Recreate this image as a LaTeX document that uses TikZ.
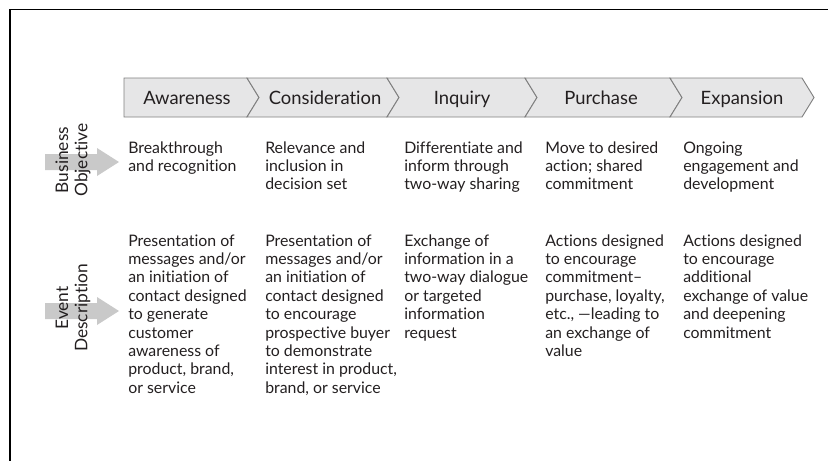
\documentclass[tikz,border=0pt]{standalone}
\usepackage{fontspec}
\setmainfont{Lato}[Ligatures=NoCommon]
\usetikzlibrary{positioning}
\definecolor{inkgray}{HTML}{231F20}
\definecolor{barfill}{HTML}{E6E6E7}
\definecolor{barline}{HTML}{808080}
\definecolor{arrowgray}{HTML}{C9C9C9}

\begin{document}
\begin{tikzpicture}[x=0.75pt,y=-0.75pt,
    stage/.style={anchor=base,inner sep=0pt,text=inkgray,font=\fontsize{13.8}{15}\selectfont},
    cell/.style={anchor=base west,inner sep=0pt,align=left,text=inkgray,font=\fontsize{11.9}{13.8}\selectfont},
    side/.style={rotate=90,align=center,inner sep=0pt,text=inkgray,font=\fontsize{13}{14.5}\selectfont},
    chev/.style={draw=barline,fill=barfill,line width=0.7pt}]
    \useasboundingbox (0,0) rectangle (828,461);

    % Frame
    \draw[line width=1.1pt] (9,9.5) -- (828,9.5);
    \draw[line width=1.1pt] (10,9) -- (10,461);

    % Stage bar
    \draw[chev] (124,78) -- (247,78) -- (259,97.5) -- (247,117) -- (124,117) -- cycle;
    \foreach \a/\b in {247/387,387/525,525/670,670/802}
        \draw[chev] (\a,78) -- (\b,78) -- (\b+12,97.5) -- (\b,117) -- (\a,117) -- (\a+12,97.5) -- cycle;

    \node[stage] (aware) at (187,104) {Awareness};
    \node[stage] (consider) at (325,104) {Consideration};
    \node[stage] (inquiry) at (462,104) {Inquiry};
    \node[stage] (purchase) at (601,104) {Purchase};
    \node[stage] (expand) at (742,104) {Expansion};

    % Row arrows
    \fill[arrowgray] (45,154) -- (97,154) -- (97,148) -- (119,162) -- (97,176) -- (97,170) -- (45,170) -- cycle;
    \fill[arrowgray] (45,303) -- (97,303) -- (97,297) -- (119,311) -- (97,325) -- (97,319) -- (45,319) -- cycle;

    % Row labels
    \node[side] (objective) at (73,160) {Business\\Objective};
    \node[side] (event) at (73,308) {Event\\Description};

    % Business objective (anchored at the last line)
    \node[cell] (obj1) at (128,171.4) {Breakthrough\\and recognition};
    \node[cell] (obj2) at (265,189.8) {Relevance and\\inclusion in\\decision set};
    \node[cell] (obj3) at (404,189.8) {Differentiate and\\inform through\\two-way sharing};
    \node[cell] (obj4) at (545,189.8) {Move to desired\\action; shared\\commitment};
    \node[cell] (obj5) at (683,189.8) {Ongoing\\engagement and\\development};

    % Event description (anchored at the last line)
    \node[cell] (ev1) at (128,393.2) {Presentation of\\messages and/or\\an initiation of\\contact designed\\to generate\\customer\\awareness of\\product, brand,\\or service};
    \node[cell] (ev2) at (265,393.2) {Presentation of\\messages and/or\\an initiation of\\contact designed\\to encourage\\prospective buyer\\to demonstrate\\interest in product,\\brand, or service};
    \node[cell] (ev3) at (404,338) {Exchange of\\information in a\\two-way dialogue\\or targeted\\information\\request};
    \node[cell] (ev4) at (545,356.4) {Actions designed\\to encourage\\commitment--\\purchase, loyalty,\\etc., ---leading to\\an exchange of\\value};
    \node[cell] (ev5) at (683,338) {Actions designed\\to encourage\\additional\\exchange of value\\and deepening\\commitment};
\end{tikzpicture}
\end{document}
